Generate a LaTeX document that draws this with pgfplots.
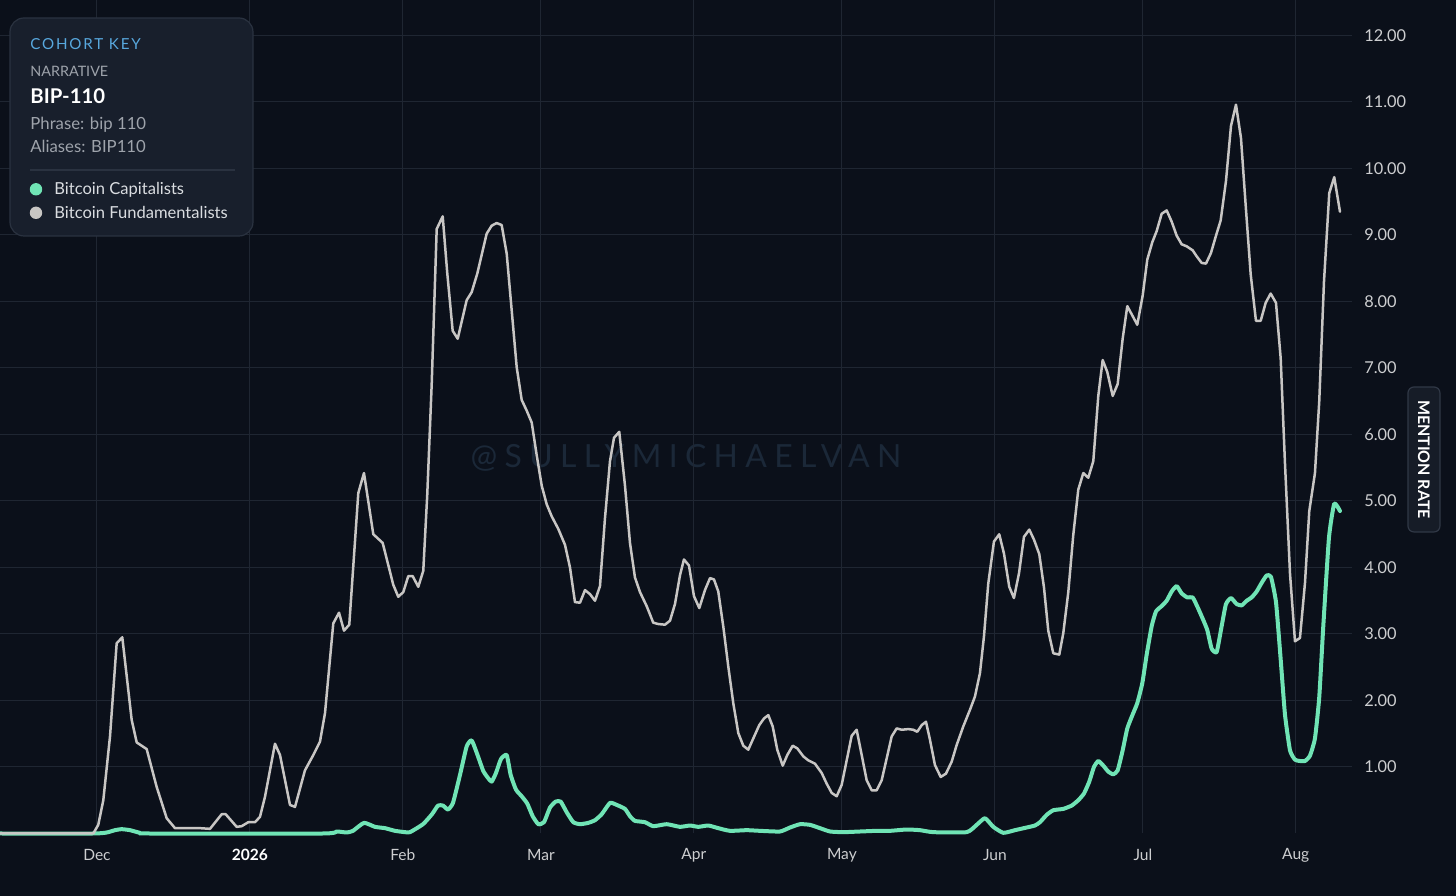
\documentclass[border=0pt]{standalone}
\usepackage{fontspec}
\setmainfont{Lato}
\usepackage{pgfplots}
\pgfplotsset{compat=1.18}
\definecolor{bg}{RGB}{11,16,26}
\definecolor{gridc}{RGB}{31,38,50}
\definecolor{mint}{RGB}{112,228,181}
\definecolor{greyl}{RGB}{200,198,196}
\definecolor{tickc}{RGB}{205,206,208}
\definecolor{panel}{RGB}{24,31,44}
\definecolor{panelb}{RGB}{42,50,64}
\definecolor{keyblue}{RGB}{88,168,222}
\definecolor{subgrey}{RGB}{158,163,171}
\definecolor{labc}{RGB}{218,221,225}
\definecolor{wm}{RGB}{27,40,56}
\definecolor{badge}{RGB}{22,28,39}
\definecolor{badgeb}{RGB}{48,56,70}
\begin{document}
\begin{tikzpicture}
\begin{scope}[x=0.5bp,y=-0.5bp,yshift=448bp]
\fill[bg] (0,0) rectangle (1456,896);
\node[anchor=center, inner sep=0pt, text=wm, font=\fontsize{16}{16}\selectfont\addfontfeature{LetterSpace=23}] at (686,458) {@SULLYMICHAELVAN};
\end{scope}
\begin{axis}[at={(0bp,31.25bp)}, anchor=south west, scale only axis,
  width=676bp, height=416.75bp,
  xmin=-19.66, xmax=254.4, ymin=0, ymax=12.534,
  clip=false,
  axis line style={draw=none}, major tick length=0pt,
  grid=major, major grid style={gridc, line width=0.5bp},
  xtick={0,31,62,90,121,151,182,212,243},
  xticklabels={Dec,{\color{white}\textbf{2026}},Feb,Mar,Apr,May,Jun,Jul,Aug},
  ytick={1,2,3,4,5,6,7,8,9,10,11,12},
  yticklabels={1.00,2.00,3.00,4.00,5.00,6.00,7.00,8.00,9.00,10.00,11.00,12.00},
  yticklabel pos=right,
  xticklabel style={font=\fontsize{7.8}{8}\selectfont, text=tickc, anchor=center, yshift=-10.75bp},
  yticklabel style={font=\fontsize{8.2}{9}\selectfont, text=tickc, anchor=west, inner sep=0pt, xshift=6bp},
]
\addplot[mint, line width=2bp, line join=round, line cap=round, smooth, tension=0.3] coordinates {
(-19.66,0) (-0.8,0) (1.97,0.015) (3.65,0.05) (5.01,0.065) (6.69,0.05) (8.72,0.01) (10.5,0) (45.81,0) (48.59,0.03) (50.62,0.015) (51.89,0.04) (54.12,0.16) (56.35,0.10) (58.38,0.08) (60.41,0.04) (62.43,0.02) (63.45,0.02) (66.08,0.14) (67.91,0.29) (69.12,0.42) (70.14,0.42) (71.15,0.36) (72.16,0.46) (73.58,0.88) (74.94,1.31) (75.95,1.40) (77.09,1.19) (78.30,0.94) (79.32,0.83) (80.01,0.78) (80.88,0.91) (81.89,1.12) (83.05,1.18) (83.86,0.88) (84.93,0.66) (86.09,0.56) (87.22,0.45) (88.32,0.26) (89.45,0.14) (90.61,0.17) (91.83,0.39) (92.98,0.48) (93.99,0.48) (95.21,0.32) (96.55,0.17) (97.91,0.14) (99.59,0.16) (100.95,0.20) (102.31,0.29) (103.99,0.46) (105.35,0.43) (107.03,0.37) (108.04,0.26) (109.05,0.19) (111.08,0.17) (112.76,0.11) (115.48,0.14) (118.17,0.10) (120.20,0.12) (121.89,0.10) (123.92,0.12) (125.94,0.08) (128.31,0.04) (131.70,0.05) (134.40,0.04) (138.45,0.03) (140.48,0.09) (142.51,0.14) (144.54,0.13) (146.56,0.08) (148.59,0.03) (151.28,0.02) (154.67,0.03) (158.05,0.04) (160.75,0.04) (164.13,0.06) (166.83,0.05) (169.53,0.02) (176.29,0.02) (178.32,0.13) (180.0,0.23) (181.69,0.10) (183.71,0.01) (186.08,0.05) (188.45,0.09) (190.13,0.12) (191.15,0.17) (192.51,0.28) (193.85,0.35) (195.87,0.37) (197.58,0.42) (198.91,0.50) (200.06,0.60) (201.14,0.78) (202.09,1.0) (202.97,1.09) (203.99,1.02) (205.0,0.93) (206.01,0.89) (206.90,0.95) (207.91,1.25) (208.85,1.58) (209.94,1.79) (210.87,1.96) (211.89,2.26) (212.78,2.69) (213.80,3.12) (214.67,3.34) (215.82,3.42) (216.83,3.50) (217.85,3.64) (218.86,3.72) (219.87,3.61) (221.01,3.55) (222.10,3.55) (223.12,3.40) (224.25,3.21) (225.06,3.06) (225.95,2.78) (226.97,2.73) (227.98,3.12) (228.85,3.45) (229.87,3.54) (231.02,3.45) (232.04,3.43) (233.05,3.50) (234.06,3.55) (235.08,3.64) (236.09,3.77) (237.10,3.88) (237.97,3.86) (238.99,3.48) (239.94,2.62) (240.81,1.79) (241.83,1.25) (242.84,1.11) (243.85,1.09) (244.87,1.09) (245.88,1.17) (246.89,1.43) (247.76,2.05) (248.58,3.12) (249.73,4.45) (250.80,4.96) (251.96,4.85)
};
\addplot[greyl, line width=1.25bp, line join=round, line cap=round] coordinates {
(-19.66,0) (-0.75,0) (0.26,0.13) (1.28,0.5) (2.64,1.46) (3.99,2.86) (5.13,2.95) (7.03,1.71) (8.05,1.37) (10.07,1.27) (12.10,0.70) (14.13,0.23) (15.81,0.08) (20.88,0.08) (22.91,0.07) (25.28,0.29) (26.09,0.29) (28.32,0.10) (29.33,0.11) (30.67,0.17) (32.03,0.17) (33.04,0.25) (34.05,0.55) (36.08,1.35) (37.10,1.18) (39.12,0.43) (40.14,0.40) (42.16,0.95) (43.85,1.18) (45.20,1.38) (46.22,1.81) (47.90,3.16) (49.06,3.32) (50.07,3.05) (51.14,3.14) (52.97,5.12) (54.12,5.42) (56.01,4.50) (57.91,4.37) (60.06,3.74) (61.07,3.56) (62.09,3.63) (63.10,3.87) (63.99,3.87) (65.13,3.71) (66.14,3.95) (66.95,5.10) (67.85,6.76) (68.86,9.09) (70.08,9.28) (71.01,8.42) (72.10,7.56) (73.12,7.44) (74.94,8.02) (75.95,8.14) (77.09,8.42) (78.99,9.02) (80.01,9.14) (81.02,9.18) (82.03,9.15) (83.05,8.72) (84.06,7.87) (85.08,7.01) (86.09,6.52) (87.10,6.36) (88.12,6.18) (89.13,5.69) (90.15,5.23) (91.16,4.95) (92.17,4.77) (93.51,4.58) (94.87,4.34) (95.88,4.0) (96.89,3.48) (97.91,3.47) (98.92,3.66) (99.93,3.60) (100.95,3.50) (101.96,3.72) (102.97,4.74) (103.99,5.60) (104.80,5.95) (105.87,6.04) (107.03,5.23) (108.04,4.37) (109.05,3.85) (110.07,3.63) (111.42,3.42) (112.76,3.17) (113.77,3.15) (115.13,3.14) (116.15,3.20) (117.16,3.45) (118.17,3.88) (118.98,4.12) (120.0,4.03) (121.01,3.57) (122.09,3.39) (123.24,3.66) (124.26,3.84) (125.07,3.82) (125.94,3.64) (126.96,3.11) (127.97,2.51) (128.98,1.96) (130.0,1.51) (131.01,1.32) (132.02,1.26) (133.04,1.43) (134.25,1.63) (135.21,1.73) (136.08,1.78) (136.97,1.61) (137.90,1.26) (139.0,1.02) (139.93,1.18) (141.02,1.32) (141.96,1.28) (143.17,1.16) (144.18,1.10) (145.54,1.05) (146.90,0.91) (147.91,0.75) (148.93,0.61) (149.94,0.56) (150.95,0.73) (151.97,1.10) (152.98,1.47) (153.99,1.56) (155.01,1.18) (156.02,0.80) (157.03,0.65) (158.05,0.65) (159.06,0.80) (160.08,1.13) (161.09,1.46) (162.10,1.58) (163.12,1.56) (164.45,1.57) (165.47,1.56) (166.28,1.53) (167.17,1.63) (168.04,1.68) (168.85,1.41) (169.86,1.03) (171.02,0.85) (172.09,0.90) (173.25,1.08) (174.26,1.33) (175.60,1.61) (176.96,1.86) (177.97,2.06) (178.98,2.41) (179.79,2.96) (180.67,3.76) (181.82,4.39) (182.89,4.50) (183.85,4.21) (184.92,3.71) (185.87,3.54) (186.89,3.91) (187.90,4.46) (188.98,4.57) (189.93,4.42) (191.01,4.20) (191.96,3.70) (192.83,3.05) (193.85,2.71) (195.06,2.69) (195.87,3.01) (196.89,3.63) (197.90,4.49) (198.91,5.17) (199.93,5.42) (200.94,5.35) (201.96,5.60) (202.97,6.58) (203.86,7.12) (204.79,6.94) (205.89,6.58) (206.90,6.76) (207.91,7.44) (208.85,7.93) (209.94,7.78) (210.87,7.65) (211.97,8.09) (212.90,8.63) (213.91,8.89) (214.81,9.06) (215.82,9.32) (216.83,9.37) (217.85,9.20) (218.86,8.99) (219.87,8.86) (220.89,8.83) (222.10,8.77) (222.91,8.68) (223.93,8.58) (224.80,8.57) (225.81,8.73) (226.83,8.99) (227.78,9.22) (228.85,9.81) (229.87,10.64) (230.88,10.96) (231.89,10.46) (232.91,9.38) (233.86,8.41) (234.93,7.71) (235.89,7.71) (236.90,7.98) (237.91,8.12) (238.99,7.98) (239.94,7.15) (240.81,5.57) (241.83,3.91) (242.84,2.89) (243.85,2.94) (244.87,3.77) (245.74,4.85) (246.89,5.42) (247.76,6.50) (248.72,8.30) (249.79,9.63) (250.80,9.87) (251.96,9.35)
};
\end{axis}
\begin{scope}[x=0.5bp,y=-0.5bp,yshift=448bp]
\draw[panelb, fill=panel, rounded corners=7bp, line width=0.6bp] (10,18) rectangle (253,236);
\node[anchor=base west, inner sep=0pt, text=keyblue, font=\fontsize{7.6}{8}\selectfont\addfontfeature{LetterSpace=12}] at (30,49.3) {COHORT KEY};
\node[anchor=base west, inner sep=0pt, text=subgrey, font=\fontsize{7.2}{8}\selectfont] at (30,76.5) {NARRATIVE};
\node[anchor=base west, inner sep=0pt, text=white, font=\fontsize{10.2}{11}\selectfont\bfseries] at (30,103.3) {BIP-110};
\node[anchor=base west, inner sep=0pt, text=subgrey, font=\fontsize{8.4}{9}\selectfont] at (30,129.3) {Phrase: bip 110};
\node[anchor=base west, inner sep=0pt, text=subgrey, font=\fontsize{8.4}{9}\selectfont] at (30,152.7) {Aliases: BIP110};
\draw[panelb, line width=0.6bp] (30,170) -- (235,170);
\fill[mint] (36,189.3) circle[radius=3.1bp];
\node[anchor=base west, inner sep=0pt, text=labc, font=\fontsize{8.3}{9}\selectfont] at (54,195) {Bitcoin Capitalists};
\fill[greyl] (36,212.8) circle[radius=3.1bp];
\node[anchor=base west, inner sep=0pt, text=labc, font=\fontsize{8.3}{9}\selectfont] at (54,218.3) {Bitcoin Fundamentalists};
\draw[badgeb, fill=badge, rounded corners=3bp, line width=0.6bp] (1408,387) rectangle (1440,532);
\node[rotate=-90, anchor=center, inner sep=0pt, text=white, font=\fontsize{8}{9}\selectfont\bfseries] at (1424,459.5) {MENTION RATE};
\end{scope}
\pgfresetboundingbox
\path (0,0) rectangle (728bp,448bp);
\end{tikzpicture}
\end{document}
